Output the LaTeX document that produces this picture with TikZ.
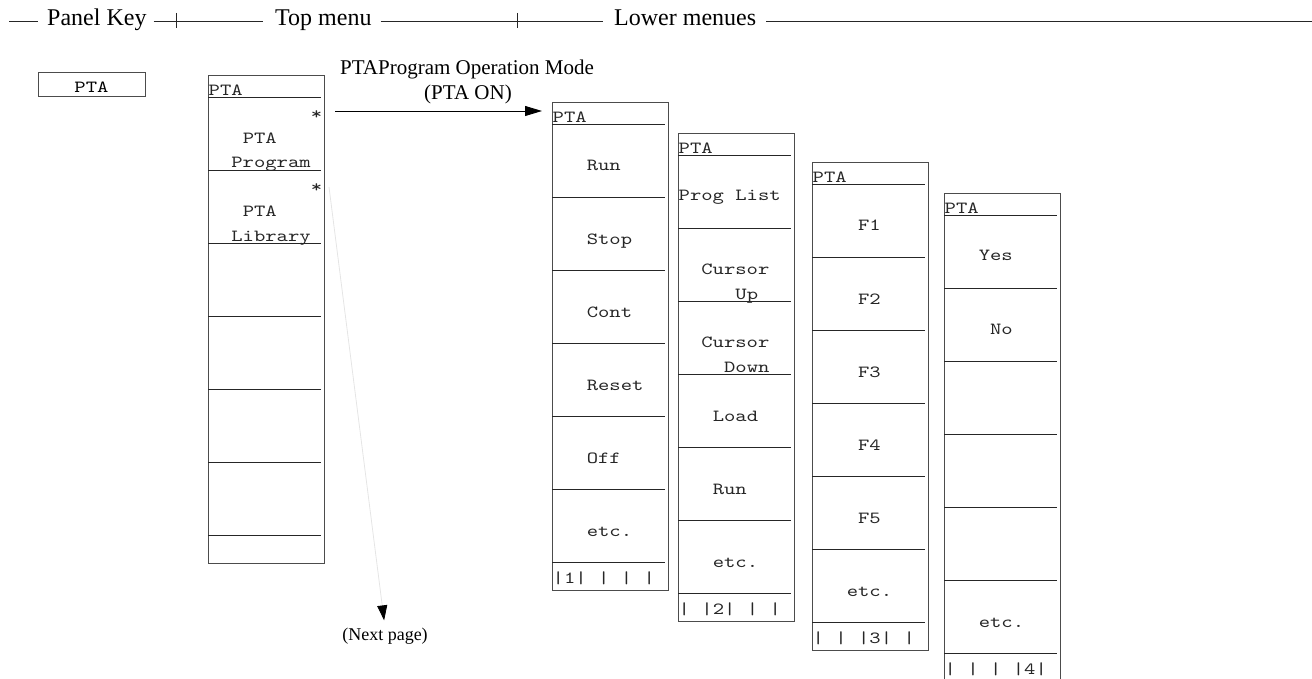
\documentclass[tikz,border=0pt]{standalone}
\usepackage{fontspec}
\setmainfont{Liberation Serif}
\newfontfamily\menufont{lmmono10-regular.otf}[FakeStretch=1.27]
\usetikzlibrary{arrows.meta, calc}

% frame, title and cell lines of one soft-key menu
\newcommand{\softmenu}[3]{%
  \node[menuframe, anchor=north west] (#1) at (#2,#3) {};
  \node[mtext, anchor=base west] (#1-title) at ([shift={(0.5,19.5)}]#1.north west) {PTA};
  \foreach \k in {0,...,6}
    \draw[cell] ([shift={(0,21+73*\k)}]#1.north west) -- ++(113,0);
}
% menu, cell, baseline in cell, column, text
\newcommand{\softkey}[5]{%
  \node[mtext, anchor=base west] (#1-#2-#3) at ([shift={(0.5+11.35*#4,21+73*#2+#3)}]#1.north west) {#5};
}
% menu, column, character of the page bar
\newcommand{\softfoot}[3]{%
  \node[mtext, anchor=base west] (#1-f#2) at ([shift={(0.5+11.35*#2,480)}]#1.north west) {#3};
}

\begin{document}
\begin{tikzpicture}[
    x=1pt, y=-1pt,
    menuframe/.style={draw=black!70, line width=1pt, minimum width=116pt, minimum height=487pt, inner sep=0pt, outer sep=0pt},
    cell/.style={black!85, line width=0.9pt},
    mtext/.style={font=\menufont\fontsize{17}{20}\selectfont, inner sep=0pt, text=black!85},
    keybox/.style={draw=black!70, line width=1pt, minimum width=107pt, minimum height=24pt, inner sep=0pt, text height=16pt, font=\menufont\fontsize{17}{20}\selectfont},
    hdr/.style={font=\fontsize{24}{28}\selectfont, inner sep=0pt},
    lbl/.style={font=\fontsize{21}{25}\selectfont, inner sep=0pt},
    note/.style={font=\fontsize{18}{21}\selectfont, inner sep=0pt},
    rule/.style={black!85, line width=0.9pt},
    arr/.style={-{Triangle[length=17pt, width=10pt]}, line width=0.9pt},
    faint/.style={black!10, line width=0.8pt, -{Triangle[length=15pt, width=10pt, color=black]}},
]
    \useasboundingbox (0,0) rectangle (1312,679);

    % Header
    \coordinate (hl) at (9,21);
    \coordinate (hend) at (1312,21);
    \node[hdr, anchor=base west] (hkey) at (47,26) {Panel Key};
    \node[hdr, anchor=base west] (htop) at (275,26) {Top menu};
    \node[hdr, anchor=base west] (hlow) at (614,26) {Lower menues};
    \draw[rule, shorten >=9pt] (hl) -- (hl -| hkey.west);
    \draw[rule, shorten <=7pt, shorten >=12pt] (hl -| hkey.east) -- (hl -| htop.west);
    \draw[rule, shorten <=9pt, shorten >=11pt] (hl -| htop.east) -- (hl -| hlow.west);
    \draw[rule, shorten <=10pt] (hl -| hlow.east) -- (hend);
    \draw[rule] (176,13) -- (176,28);
    \draw[rule] (517,13) -- (517,28);

    % Panel key
    \node[keybox] (pkey) at (91.5,85) {PTA};

    % Top menu
    \softmenu{tm}{208}{76}
    \softkey{tm}{0}{23}{9}{*}
    \softkey{tm}{0}{47}{3}{PTA}
    \softkey{tm}{0}{71}{2}{Program}
    \softkey{tm}{1}{23}{9}{*}
    \softkey{tm}{1}{47}{3}{PTA}
    \softkey{tm}{1}{71}{2}{Library}

    % Lower menu 1
    \softmenu{m1}{552}{103}
    \foreach \i/\t in {0/Run,1/Stop,2/Cont,3/Reset,4/Off,5/etc.}
        {\softkey{m1}{\i}{47}{3}{\t}}
    \foreach \c/\t in {0/|,1/1,2/|,4/|,6/|,8/|}
        {\softfoot{m1}{\c}{\t}}

    % Lower menu 2
    \softmenu{m2}{678}{134}
    \softkey{m2}{0}{46}{0}{Prog List}
    \softkey{m2}{1}{46}{2}{Cursor}
    \softkey{m2}{1}{71}{5}{Up}
    \softkey{m2}{2}{46}{2}{Cursor}
    \softkey{m2}{2}{71}{4}{Down}
    \foreach \i/\t in {3/Load,4/Run,5/etc.}
        {\softkey{m2}{\i}{47}{3}{\t}}
    \foreach \c/\t in {0/|,2/|,3/2,4/|,6/|,8/|}
        {\softfoot{m2}{\c}{\t}}

    % Lower menu 3
    \softmenu{m3}{812}{163}
    \foreach \i/\t in {0/F1,1/F2,2/F3,3/F4,4/F5}
        {\softkey{m3}{\i}{47}{4}{\t}}
    \softkey{m3}{5}{47}{3}{etc.}
    \foreach \c/\t in {0/|,2/|,4/|,5/3,6/|,8/|}
        {\softfoot{m3}{\c}{\t}}

    % Lower menu 4
    \softmenu{m4}{944}{194}
    \softkey{m4}{0}{46}{3}{Yes}
    \softkey{m4}{1}{46}{4}{No}
    \softkey{m4}{5}{47}{3}{etc.}
    \foreach \c/\t in {0/|,2/|,4/|,6/|,7/4,8/|}
        {\softfoot{m4}{\c}{\t}}

    % PTA Program -> menu 1
    \coordinate (progout) at (335,111);
    \draw[arr, shorten >=10pt] (progout) -- (progout -| m1.west);
    \node[lbl, anchor=base] (modelbl) at (467,75) {PTAProgram Operation Mode};
    \node[lbl, anchor=base] (modeon) at (468,100) {(PTA ON)};

    % PTA Library -> next page
    \coordinate (libout) at (329,187);
    \node[note, anchor=base] (nextpg) at (385,640) {(Next page)};
    \draw[faint, shorten >=7pt] (libout) -- (nextpg.north);
\end{tikzpicture}
\end{document}
